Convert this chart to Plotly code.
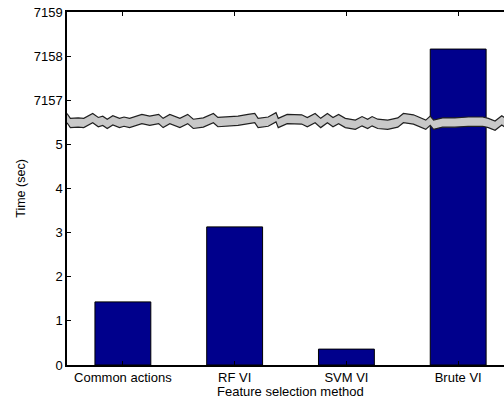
import plotly.graph_objects as go

# Run times per feature-selection method (seconds)
methods = ["Common actions", "RF VI", "SVM VI", "Brute VI"]
times = [1.43, 3.13, 0.36, 7158.16]

# Broken y axis: lower segment shown as-is, upper segment shifted down
lower_ticks = [0, 1, 2, 3, 4, 5]
upper_ticks = [7157, 7158, 7159]
upper_shift = 7151  # 7157 is drawn one unit above 5

# Jagged break band (top edge, in axis units) across the plot
band_x = [0.50, 0.53, 0.60, 0.65, 0.73, 0.78, 0.82, 0.86, 0.91, 0.97,
          1.01, 1.06, 1.17, 1.24, 1.32, 1.36, 1.42, 1.51, 1.58, 1.63,
          1.72, 1.81, 1.85, 2.03, 2.12, 2.18, 2.21, 2.30, 2.37, 2.39,
          2.47, 2.60, 2.65, 2.72, 2.77, 2.83, 2.88, 2.93, 2.99, 3.08,
          3.14, 3.19, 3.23, 3.28, 3.37, 3.46, 3.51, 3.60, 3.71, 3.75,
          3.78, 3.86, 3.97, 4.09, 4.22, 4.27, 4.33, 4.39, 4.42]
band_top = [5.70, 5.59, 5.60, 5.59, 5.70, 5.61, 5.64, 5.57, 5.65, 5.59,
            5.62, 5.59, 5.68, 5.64, 5.68, 5.59, 5.68, 5.59, 5.68, 5.57,
            5.60, 5.70, 5.61, 5.64, 5.68, 5.70, 5.59, 5.62, 5.72, 5.59,
            5.68, 5.67, 5.61, 5.70, 5.59, 5.70, 5.61, 5.68, 5.59, 5.55,
            5.63, 5.57, 5.63, 5.57, 5.55, 5.60, 5.70, 5.67, 5.55, 5.64,
            5.55, 5.60, 5.60, 5.62, 5.62, 5.59, 5.53, 5.65, 5.60]
band_thickness = 0.21


def to_axis(v):
    return v - upper_shift if v >= upper_ticks[0] - 1 else v


xpos = list(range(1, len(methods) + 1))
heights = [to_axis(v) for v in times]

FONT = "Liberation Sans, Arial, sans-serif"

fig = go.Figure()
fig.add_trace(go.Bar(
    x=xpos, y=heights, width=0.5,
    marker=dict(color="#00008c", line=dict(color="black", width=1)),
    customdata=times, hovertemplate="%{customdata} s<extra></extra>",
))

poly_x = band_x + band_x[::-1]
poly_y = band_top + [t - band_thickness for t in band_top][::-1]
fig.add_trace(go.Scatter(
    x=poly_x, y=poly_y, mode="lines", fill="toself",
    fillcolor="#c8c8c8", line=dict(color="#202020", width=1.2),
    hoverinfo="skip",
))

tickvals = lower_ticks + [to_axis(t) for t in upper_ticks]
ticktext = [str(t) for t in lower_ticks] + [str(t) for t in upper_ticks]

fig.update_layout(
    width=504, height=403,
    margin=dict(l=67, r=0, t=12, b=38),
    plot_bgcolor="white", paper_bgcolor="white",
    showlegend=False,
    font=dict(family=FONT, size=13, color="black"),
    xaxis=dict(
        range=[0.5, 4.41], tickvals=xpos, ticktext=methods,
        ticks="inside", ticklen=4, tickcolor="black",
        showline=True, linecolor="black", linewidth=1.5, mirror="ticks",
        showgrid=False, zeroline=False,
    ),
    yaxis=dict(
        range=[0, 8], tickvals=tickvals, ticktext=ticktext,
        ticks="inside", ticklen=4, tickcolor="black",
        showline=True, linecolor="black", linewidth=1.5,
        showgrid=False, zeroline=False,
        title=dict(text="Time (sec)", font=dict(size=12.5), standoff=5),
    ),
    annotations=[dict(
        text="Feature selection method", x=2.5, xref="x",
        y=-0.075, yref="paper", showarrow=False, yanchor="middle",
        font=dict(size=13),
    )],
)

fig.write_html("out.html")
